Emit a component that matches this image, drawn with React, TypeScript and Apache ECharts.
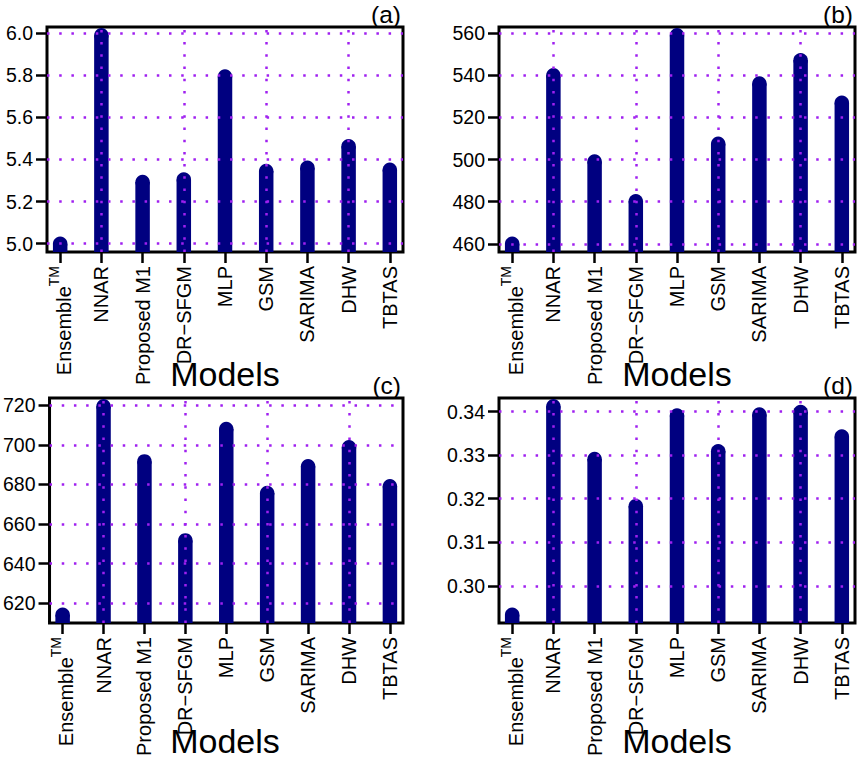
import React, { useEffect, useRef } from 'react';
import * as echarts from 'echarts';

// ---------- data ----------
const categories = ['Ensemble', 'NNAR', 'Proposed M1', 'DR−SFGM', 'MLP', 'GSM', 'SARIMA', 'DHW', 'TBTAS'];
const valuesA = [5.0, 5.99, 5.293, 5.305, 5.794, 5.345, 5.361, 5.463, 5.351];
const valuesB = [460.1, 540.0, 499.1, 480.2, 559.0, 507.5, 536.1, 547.2, 527.0];
const valuesC = [614.2, 719.4, 691.6, 651.7, 707.9, 675.6, 689.1, 698.7, 679.0];
const valuesD = [0.2934, 0.3412, 0.3291, 0.3183, 0.3391, 0.3309, 0.3393, 0.3399, 0.3343];
const ticksA = [5.0, 5.2, 5.4, 5.6, 5.8, 6.0];
const ticksB = [460, 480, 500, 520, 540, 560];
const ticksC = [620, 640, 660, 680, 700, 720];
const ticksD = [0.30, 0.31, 0.32, 0.33, 0.34];
const xGridValues = [2, 4, 6, 8];
const panelLabels = ['(a)', '(b)', '(c)', '(d)'];
const axisTitle = 'Models';

// ---------- style / layout ----------
const FONT = '"Liberation Sans", Arial, Helvetica, sans-serif';
const NAVY = '#000080';
const GRID_COLOR = '#A020F0';
const BAR_W = 14.5;
const BOX_W = 356;
const BOX_H = 225;
const layout = [
  { left: 47, top: 27 },
  { left: 499, top: 27 },
  { left: 47, top: 398 },
  { left: 499, top: 398 },
];
const panelData = [
  { values: valuesA, ticks: ticksA, dec: 1 },
  { values: valuesB, ticks: ticksB, dec: 0 },
  { values: valuesC, ticks: ticksC, dec: 0 },
  { values: valuesD, ticks: ticksD, dec: 2 },
];

function rRange(lo: number, hi: number): [number, number] {
  const pad = 0.04 * (hi - lo);
  return [lo - pad, hi + pad];
}

function buildOption() {
  const positions = categories.map((_, i) => i + 1);
  const [xMin, xMax] = rRange(1, categories.length);
  const grid: any[] = [];
  const xAxis: any[] = [];
  const yAxis: any[] = [];
  const series: any[] = [];
  const graphic: any[] = [];

  panelData.forEach((p, i) => {
    const L = layout[i];
    const [yMin, yMax] = rRange(Math.min(...p.values), Math.max(...p.values));
    grid.push({
      left: L.left, top: L.top, width: BOX_W, height: BOX_H,
      show: true, borderColor: '#000', borderWidth: 3, backgroundColor: '#fff',
    });
    xAxis.push({
      type: 'value', gridIndex: i, min: xMin, max: xMax,
      axisLine: { show: false },
      splitLine: { show: false },
      axisTick: { show: true, customValues: positions, length: 11, lineStyle: { color: '#000', width: 2.5 } },
      axisLabel: {
        show: true, customValues: positions, rotate: 90, margin: 14,
        fontSize: 20, fontFamily: FONT, color: '#000',
        formatter: (v: number) => {
          const idx = Math.round(v) - 1;
          if (idx === 0) return '{e|' + categories[0] + '}{t|TM}';
          return '{n|' + (categories[idx] ?? '') + '}';
        },
        rich: {
          e: { fontSize: 20, fontFamily: FONT, color: '#000', lineHeight: 27, verticalAlign: 'bottom' },
          t: { fontSize: 14, fontFamily: FONT, color: '#000', lineHeight: 15, verticalAlign: 'top' },
          n: { fontSize: 20, fontFamily: FONT, color: '#000' },
        },
      },
    });
    yAxis.push({
      type: 'value', gridIndex: i, min: yMin, max: yMax,
      axisLine: { show: false },
      splitLine: { show: false },
      axisTick: { show: true, customValues: p.ticks, length: 11, lineStyle: { color: '#000', width: 2.5 } },
      axisLabel: {
        show: true, customValues: p.ticks, margin: 14,
        fontSize: 19.5, fontFamily: FONT, color: '#000',
        formatter: (v: number) => v.toFixed(p.dec),
      },
    });
    series.push({
      type: 'custom',
      xAxisIndex: i, yAxisIndex: i,
      z: 2,
      data: p.values.map((v, k) => [positions[k], v]),
      renderItem: (params: any, api: any) => {
        const x = api.value(0);
        const y = api.value(1);
        const top = api.coord([x, y]);
        const bottom = api.coord([x, yMin]);
        return {
          type: 'group',
          children: [
            { type: 'rect', shape: { x: top[0] - BAR_W / 2, y: top[1], width: BAR_W, height: bottom[1] - top[1] }, style: { fill: NAVY } },
            { type: 'circle', shape: { cx: top[0], cy: top[1], r: BAR_W / 2 }, style: { fill: NAVY } },
          ],
        };
      },
      markLine: {
        silent: true, symbol: 'none', z: 6,
        label: { show: false },
        lineStyle: { color: GRID_COLOR, type: [2.5, 9.7], width: 2.5, opacity: 1 },
        emphasis: { disabled: true },
        data: [
          ...xGridValues.map((v) => ({ xAxis: v })),
          ...p.ticks.map((v) => ({ yAxis: v })),
        ],
      },
    });
    graphic.push({
      type: 'text', x: L.left + BOX_W - 2, y: L.top - 13,
      style: { text: panelLabels[i], fontSize: 24.5, fontFamily: FONT, fill: '#000', textAlign: 'right', textVerticalAlign: 'middle' },
    });
    graphic.push({
      type: 'text', x: L.left + BOX_W / 2, y: Math.min(L.top + BOX_H + 122, 741),
      style: { text: axisTitle, fontSize: 34, fontFamily: FONT, fill: '#000', textAlign: 'center', textVerticalAlign: 'middle' },
    });
  });

  return {
    animation: false,
    backgroundColor: '#fff',
    textStyle: { fontFamily: FONT },
    grid, xAxis, yAxis, series, graphic,
  };
}

export default function App() {
  const ref = useRef<HTMLDivElement>(null);
  useEffect(() => {
    if (!ref.current) return;
    const chart = echarts.init(ref.current, null, { renderer: 'svg' });
    chart.setOption(buildOption() as any);
    return () => chart.dispose();
  }, []);
  return <div ref={ref} style={{ position: 'fixed', left: 0, top: 0, width: 858, height: 760, background: '#fff' }} />;
}
